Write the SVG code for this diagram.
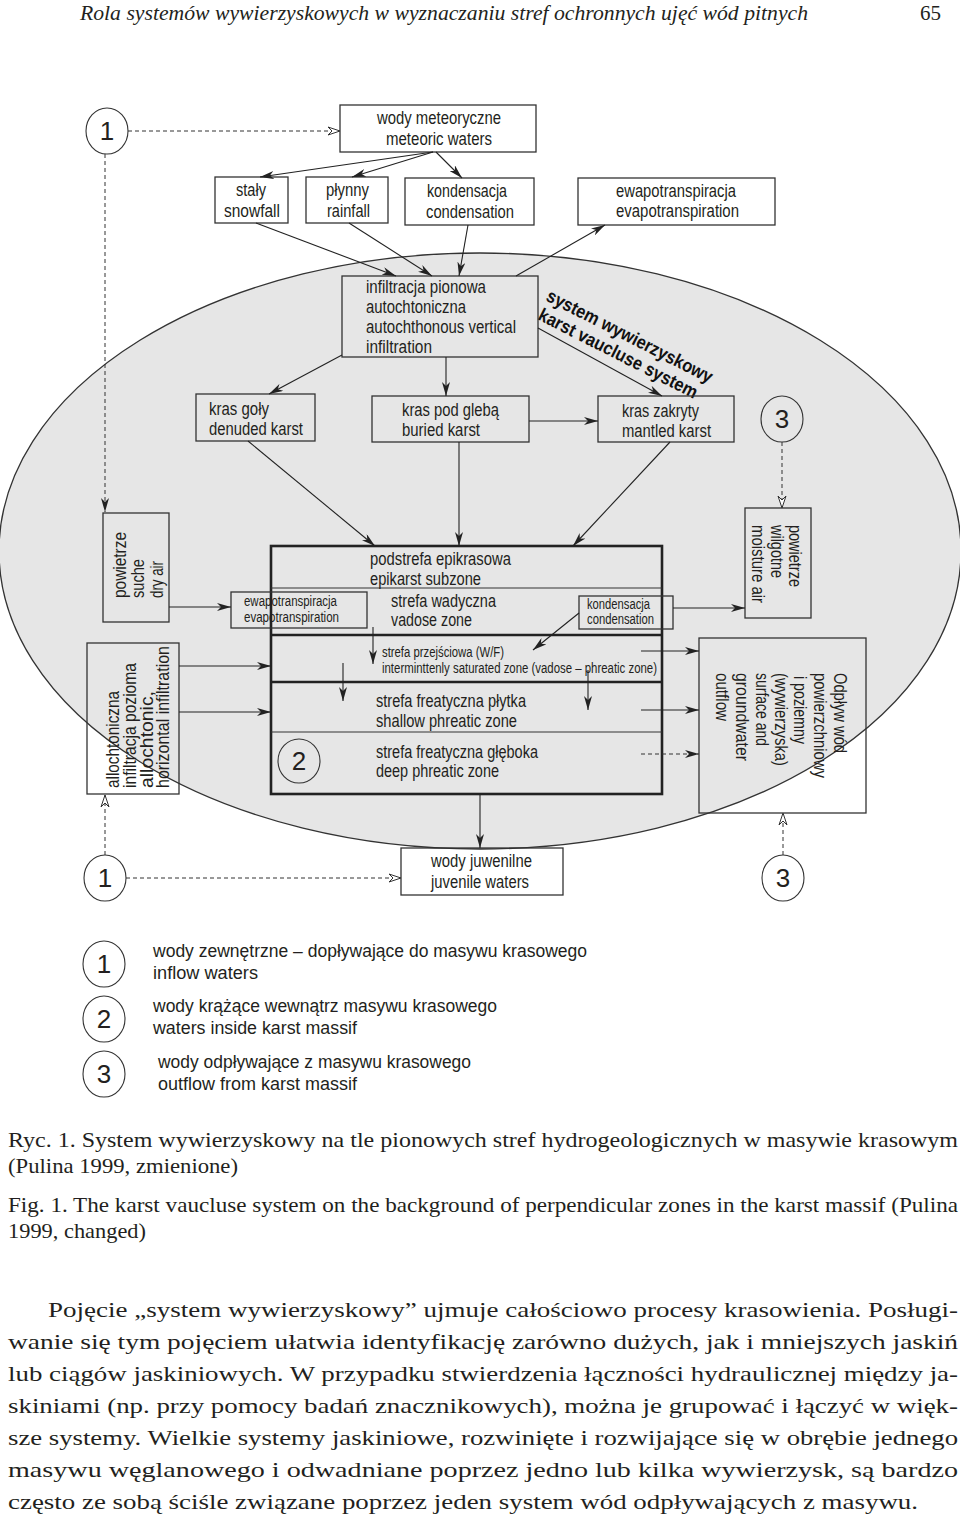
<svg xmlns="http://www.w3.org/2000/svg" width="960" height="1526" viewBox="0 0 960 1526">
<style>
.t{font-family:"Liberation Sans",Arial,sans-serif;font-size:17.5px;fill:#231f20}
.sm{font-size:14px}
.num{font-family:"Liberation Sans",Arial,sans-serif;font-size:26px;fill:#231f20;text-anchor:middle}
.bx{fill:none;stroke:#333;stroke-width:1.3}
.ci{fill:none;stroke:#333;stroke-width:1.1}
.ln{fill:none;stroke:#222;stroke-width:1.1}
.ar{fill:none;stroke:#222;stroke-width:1.1;marker-end:url(#ah)}
.da{fill:none;stroke:#333;stroke-width:1;stroke-dasharray:4 3;marker-end:url(#ao)}
.dl{fill:none;stroke:#333;stroke-width:1;stroke-dasharray:4 3}
.serif{font-family:"Liberation Serif","Times New Roman",serif;fill:#231f20}
</style>
<defs>
<marker id="ah" viewBox="0 0 14 8" refX="14" refY="4" markerWidth="14" markerHeight="8" markerUnits="userSpaceOnUse" orient="auto"><path d="M0,0 L14,4 L0,8 L4,4 z" fill="#222"/></marker>
<marker id="ao" viewBox="0 0 14 10" refX="13" refY="5" markerWidth="14" markerHeight="10" markerUnits="userSpaceOnUse" orient="auto"><path d="M1,1 L13,5 L1,9 L5,5 z" fill="#fff" stroke="#333" stroke-width="1"/></marker>
</defs>
<rect x="0" y="0" width="960" height="1526" fill="#fff"/>

<text class="serif" x="80" y="20" font-size="21" font-style="italic" textLength="728" lengthAdjust="spacingAndGlyphs">Rola systemów wywierzyskowych w wyznaczaniu stref ochronnych ujęć wód pitnych</text>
<text class="serif" x="920" y="20" font-size="21" textLength="21" lengthAdjust="spacingAndGlyphs">65</text>

<ellipse id="massif" cx="480" cy="551" rx="481" ry="298" fill="#e6e6e6" stroke="#333" stroke-width="1.3"/>

<g id="zones">
<rect x="271" y="546" width="391" height="248" fill="none" stroke="#222" stroke-width="2.6"/>
<line x1="271" y1="588" x2="662" y2="588" stroke="#333" stroke-width="1.1"/>
<line x1="271" y1="635" x2="662" y2="635" stroke="#222" stroke-width="2.6"/>
<line x1="271" y1="682" x2="662" y2="682" stroke="#222" stroke-width="2.6"/>
<line x1="271" y1="732" x2="662" y2="732" stroke="#333" stroke-width="1.1"/>
<text class="t" x="370" y="565" textLength="141" lengthAdjust="spacingAndGlyphs">podstrefa epikrasowa</text>
<text class="t" x="370" y="585" textLength="111" lengthAdjust="spacingAndGlyphs">epikarst subzone</text>
<text class="t" x="391" y="607" textLength="105" lengthAdjust="spacingAndGlyphs">strefa wadyczna</text>
<text class="t" x="391" y="626" textLength="81" lengthAdjust="spacingAndGlyphs">vadose zone</text>
<text class="t sm" x="382" y="657" textLength="122" lengthAdjust="spacingAndGlyphs">strefa przejściowa (W/F)</text>
<text class="t sm" x="382" y="673" textLength="275" lengthAdjust="spacingAndGlyphs">interminttenly saturated zone (vadose – phreatic zone)</text>
<text class="t" x="376" y="707" textLength="150" lengthAdjust="spacingAndGlyphs">strefa freatyczna płytka</text>
<text class="t" x="376" y="727" textLength="141" lengthAdjust="spacingAndGlyphs">shallow phreatic zone</text>
<text class="t" x="376" y="758" textLength="162" lengthAdjust="spacingAndGlyphs">strefa freatyczna głęboka</text>
<text class="t" x="376" y="777" textLength="123" lengthAdjust="spacingAndGlyphs">deep phreatic zone</text>
</g>

<g id="c1top"><ellipse class="ci" cx="107" cy="131" rx="21" ry="23"/><text class="num" x="107" y="140">1</text></g>
<g id="meteoric"><rect class="bx" x="340" y="105" width="196" height="47" fill="#fff"/>
<text class="t" x="377" y="124" textLength="124" lengthAdjust="spacingAndGlyphs">wody meteoryczne</text>
<text class="t" x="386" y="145" textLength="106" lengthAdjust="spacingAndGlyphs">meteoric waters</text></g>
<g id="snow"><rect class="bx" x="215" y="177" width="73" height="46"/>
<text class="t" x="236" y="196" textLength="30" lengthAdjust="spacingAndGlyphs">stały</text>
<text class="t" x="224" y="217" textLength="56" lengthAdjust="spacingAndGlyphs">snowfall</text></g>
<g id="rain"><rect class="bx" x="306" y="177" width="82" height="46"/>
<text class="t" x="326" y="196" textLength="43" lengthAdjust="spacingAndGlyphs">płynny</text>
<text class="t" x="327" y="217" textLength="43" lengthAdjust="spacingAndGlyphs">rainfall</text></g>
<g id="cond"><rect class="bx" x="405" y="178" width="129" height="47"/>
<text class="t" x="427" y="197" textLength="80" lengthAdjust="spacingAndGlyphs">kondensacja</text>
<text class="t" x="426" y="218" textLength="88" lengthAdjust="spacingAndGlyphs">condensation</text></g>
<g id="evap"><rect class="bx" x="578" y="178" width="197" height="47"/>
<text class="t" x="616" y="197" textLength="120" lengthAdjust="spacingAndGlyphs">ewapotranspiracja</text>
<text class="t" x="616" y="217" textLength="123" lengthAdjust="spacingAndGlyphs">evapotranspiration</text></g>

<g id="infil"><rect class="bx" x="342" y="276" width="196" height="81"/>
<text class="t" x="366" y="293" textLength="120" lengthAdjust="spacingAndGlyphs">infiltracja pionowa</text>
<text class="t" x="366" y="313" textLength="100" lengthAdjust="spacingAndGlyphs">autochtoniczna</text>
<text class="t" x="366" y="333" textLength="150" lengthAdjust="spacingAndGlyphs">autochthonous vertical</text>
<text class="t" x="366" y="353" textLength="66" lengthAdjust="spacingAndGlyphs">infiltration</text></g>

<g id="sysname" font-family="'Liberation Sans',Arial,sans-serif" font-weight="bold" font-size="18.5" fill="#111">
<text transform="translate(545,300) rotate(27)" textLength="184" lengthAdjust="spacingAndGlyphs">system wywierzyskowy</text>
<text transform="translate(537,319) rotate(27)" textLength="176" lengthAdjust="spacingAndGlyphs">karst vaucluse system</text>
</g>

<g id="denuded"><rect class="bx" x="196" y="394" width="119" height="47"/>
<text class="t" x="209" y="415" textLength="60" lengthAdjust="spacingAndGlyphs">kras goły</text>
<text class="t" x="209" y="435" textLength="94" lengthAdjust="spacingAndGlyphs">denuded karst</text></g>
<g id="buried"><rect class="bx" x="372" y="396" width="157" height="46"/>
<text class="t" x="402" y="416" textLength="97" lengthAdjust="spacingAndGlyphs">kras pod glebą</text>
<text class="t" x="402" y="436" textLength="78" lengthAdjust="spacingAndGlyphs">buried karst</text></g>
<g id="mantled"><rect class="bx" x="598" y="396" width="136" height="46"/>
<text class="t" x="622" y="417" textLength="77" lengthAdjust="spacingAndGlyphs">kras zakryty</text>
<text class="t" x="622" y="437" textLength="89" lengthAdjust="spacingAndGlyphs">mantled karst</text></g>
<g id="c3top"><ellipse class="ci" cx="782" cy="419" rx="21" ry="23"/><text class="num" x="782" y="428">3</text></g>

<g id="dryair"><rect class="bx" x="103" y="513" width="66" height="109"/>
<text class="t" transform="translate(126,598) rotate(-90)" textLength="66" lengthAdjust="spacingAndGlyphs">powietrze</text>
<text class="t" transform="translate(144,598) rotate(-90)" textLength="39" lengthAdjust="spacingAndGlyphs">suche</text>
<text class="t" transform="translate(163,598) rotate(-90)" textLength="37" lengthAdjust="spacingAndGlyphs">dry air</text></g>

<g id="allo"><rect class="bx" x="87" y="643" width="92" height="151"/>
<text class="t" transform="translate(119,788) rotate(-90)" textLength="97" lengthAdjust="spacingAndGlyphs">allochtoniczna</text>
<text class="t" transform="translate(136,788) rotate(-90)" textLength="125" lengthAdjust="spacingAndGlyphs">infiltracja pozioma</text>
<text class="t" transform="translate(153,788) rotate(-90)" textLength="97" lengthAdjust="spacingAndGlyphs">allochtonic,</text>
<text class="t" transform="translate(169,788) rotate(-90)" textLength="142" lengthAdjust="spacingAndGlyphs">horizontal infiltration</text></g>

<g id="evap2"><rect class="bx" x="231" y="592" width="136" height="36"/>
<text class="t sm" x="244" y="606" textLength="93" lengthAdjust="spacingAndGlyphs">ewapotranspiracja</text>
<text class="t sm" x="244" y="622" textLength="95" lengthAdjust="spacingAndGlyphs">evapotranspiration</text></g>
<g id="cond2"><rect class="bx" x="579" y="596" width="94" height="33"/>
<text class="t sm" x="587" y="609" textLength="63" lengthAdjust="spacingAndGlyphs">kondensacja</text>
<text class="t sm" x="587" y="624" textLength="67" lengthAdjust="spacingAndGlyphs">condensation</text></g>
<g id="c2"><ellipse class="ci" cx="299" cy="761" rx="21" ry="22"/><text class="num" x="299" y="770">2</text></g>

<g id="moist"><rect class="bx" x="745" y="508" width="66" height="110"/>
<text class="t" transform="translate(789,525) rotate(90)" textLength="62" lengthAdjust="spacingAndGlyphs">powietrze</text>
<text class="t" transform="translate(771,525) rotate(90)" textLength="53" lengthAdjust="spacingAndGlyphs">wilgotne</text>
<text class="t" transform="translate(752,525) rotate(90)" textLength="78" lengthAdjust="spacingAndGlyphs">moisture air</text></g>

<g id="outflow"><rect class="bx" x="699" y="638" width="167" height="175"/>
<text class="t" transform="translate(834,673) rotate(90)" textLength="80" lengthAdjust="spacingAndGlyphs">Odpływ wód</text>
<text class="t" transform="translate(814,673) rotate(90)" textLength="105" lengthAdjust="spacingAndGlyphs">powierzchniowy</text>
<text class="t" transform="translate(794,676) rotate(90)" textLength="68" lengthAdjust="spacingAndGlyphs">i poziemny</text>
<text class="t" transform="translate(775,673) rotate(90)" textLength="93" lengthAdjust="spacingAndGlyphs">(wywierzyska)</text>
<text class="t" transform="translate(756,673) rotate(90)" textLength="73" lengthAdjust="spacingAndGlyphs">surface and</text>
<text class="t" transform="translate(736,673) rotate(90)" textLength="88" lengthAdjust="spacingAndGlyphs">groundwater</text>
<text class="t" transform="translate(716,673) rotate(90)" textLength="48" lengthAdjust="spacingAndGlyphs">outflow</text></g>

<g id="juvenile"><rect class="bx" x="401" y="848" width="162" height="47" fill="#fff"/>
<text class="t" x="431" y="867" textLength="101" lengthAdjust="spacingAndGlyphs">wody juwenilne</text>
<text class="t" x="431" y="888" textLength="98" lengthAdjust="spacingAndGlyphs">juvenile waters</text></g>
<g id="c1bot"><ellipse class="ci" cx="105" cy="878" rx="21" ry="23"/><text class="num" x="105" y="887">1</text></g>
<g id="c3bot"><ellipse class="ci" cx="783" cy="878" rx="21" ry="23"/><text class="num" x="783" y="887">3</text></g>

<g id="connectors">
<line class="da" x1="128" y1="131" x2="340" y2="131"/>
<line class="dl" x1="105" y1="154" x2="105" y2="512" marker-end="url(#ah)"/>
<line class="da" x1="105" y1="855" x2="105" y2="795"/>
<line class="da" x1="126" y1="878" x2="401" y2="878"/>
<line class="da" x1="782" y1="442" x2="782" y2="508"/>
<line class="da" x1="783" y1="855" x2="783" y2="813"/>
<line class="ar" x1="433" y1="152" x2="260" y2="177"/>
<line class="ar" x1="433" y1="152" x2="352" y2="177"/>
<line class="ar" x1="436" y1="152" x2="462" y2="178"/>
<line class="ar" x1="256" y1="223" x2="396" y2="276"/>
<line class="ar" x1="349" y1="223" x2="432" y2="276"/>
<line class="ar" x1="468" y1="225" x2="459" y2="276"/>
<line class="ar" x1="516" y1="276" x2="605" y2="225"/>
<line class="ar" x1="342" y1="355" x2="269" y2="394"/>
<line class="ar" x1="446" y1="357" x2="446" y2="396"/>
<line class="ar" x1="538" y1="328" x2="662" y2="396"/>
<line class="ar" x1="529" y1="421" x2="598" y2="421"/>
<line class="ar" x1="248" y1="441" x2="375" y2="546"/>
<line class="ar" x1="459" y1="442" x2="459" y2="546"/>
<line class="ar" x1="670" y1="442" x2="573" y2="546"/>
<line class="ar" x1="169" y1="607" x2="231" y2="607"/>
<line class="ar" x1="179" y1="666" x2="271" y2="666"/>
<line class="ar" x1="179" y1="712" x2="271" y2="712"/>
<line class="ar" x1="373" y1="627" x2="373" y2="664"/>
<line class="ar" x1="343" y1="663" x2="343" y2="701"/>
<line class="ar" x1="588" y1="670" x2="588" y2="710"/>
<line class="ar" x1="579" y1="613" x2="533" y2="650"/>
<line class="ar" x1="673" y1="608" x2="745" y2="608"/>
<line class="ar" x1="641" y1="651" x2="699" y2="651"/>
<line class="ar" x1="641" y1="710" x2="699" y2="710"/>
<line class="dl" x1="641" y1="754" x2="699" y2="754" marker-end="url(#ah)"/>
<line class="ar" x1="480" y1="794" x2="480" y2="848"/>
</g>

<g id="legend">
<ellipse class="ci" cx="104" cy="964" rx="21" ry="23"/><text class="num" x="104" y="973">1</text>
<ellipse class="ci" cx="104" cy="1019" rx="21" ry="23"/><text class="num" x="104" y="1028">2</text>
<ellipse class="ci" cx="104" cy="1074" rx="21" ry="23"/><text class="num" x="104" y="1083">3</text>
<text class="t" x="153" y="957" font-size="19.5" textLength="434" lengthAdjust="spacingAndGlyphs">wody zewnętrzne – dopływające do masywu krasowego</text>
<text class="t" x="153" y="979" font-size="19.5" textLength="105" lengthAdjust="spacingAndGlyphs">inflow waters</text>
<text class="t" x="153" y="1012" font-size="19.5" textLength="344" lengthAdjust="spacingAndGlyphs">wody krążące wewnątrz masywu krasowego</text>
<text class="t" x="153" y="1034" font-size="19.5" textLength="204" lengthAdjust="spacingAndGlyphs">waters inside karst massif</text>
<text class="t" x="158" y="1068" font-size="19.5" textLength="313" lengthAdjust="spacingAndGlyphs">wody odpływające z masywu krasowego</text>
<text class="t" x="158" y="1090" font-size="19.5" textLength="199" lengthAdjust="spacingAndGlyphs">outflow from karst massif</text>
</g>

<g id="caption" font-size="21">
<text class="serif" x="8" y="1147" textLength="950" lengthAdjust="spacingAndGlyphs">Ryc. 1. System wywierzyskowy na tle pionowych stref hydrogeologicznych w masywie krasowym</text>
<text class="serif" x="8" y="1173" textLength="230" lengthAdjust="spacingAndGlyphs">(Pulina 1999, zmienione)</text>
<text class="serif" x="8" y="1212" textLength="950" lengthAdjust="spacingAndGlyphs">Fig. 1. The karst vaucluse system on the background of perpendicular zones in the karst massif (Pulina</text>
<text class="serif" x="8" y="1238" textLength="138" lengthAdjust="spacingAndGlyphs">1999, changed)</text>
</g>

<g id="body" font-size="22">
<text class="serif" x="48" y="1317" textLength="910" lengthAdjust="spacingAndGlyphs">Pojęcie „system wywierzyskowy” ujmuje całościowo procesy krasowienia. Posługi-</text>
<text class="serif" x="8" y="1349" textLength="950" lengthAdjust="spacingAndGlyphs">wanie się tym pojęciem ułatwia identyfikację zarówno dużych, jak i mniejszych jaskiń</text>
<text class="serif" x="8" y="1381" textLength="950" lengthAdjust="spacingAndGlyphs">lub ciągów jaskiniowych. W przypadku stwierdzenia łączności hydraulicznej między ja-</text>
<text class="serif" x="8" y="1413" textLength="950" lengthAdjust="spacingAndGlyphs">skiniami (np. przy pomocy badań znacznikowych), można je grupować i łączyć w więk-</text>
<text class="serif" x="8" y="1445" textLength="950" lengthAdjust="spacingAndGlyphs">sze systemy. Wielkie systemy jaskiniowe, rozwinięte i rozwijające się w obrębie jednego</text>
<text class="serif" x="8" y="1477" textLength="950" lengthAdjust="spacingAndGlyphs">masywu węglanowego i odwadniane poprzez jedno lub kilka wywierzysk, są bardzo</text>
<text class="serif" x="8" y="1509" textLength="910" lengthAdjust="spacingAndGlyphs">często ze sobą ściśle związane poprzez jeden system wód odpływających z masywu.</text>
</g>
</svg>
